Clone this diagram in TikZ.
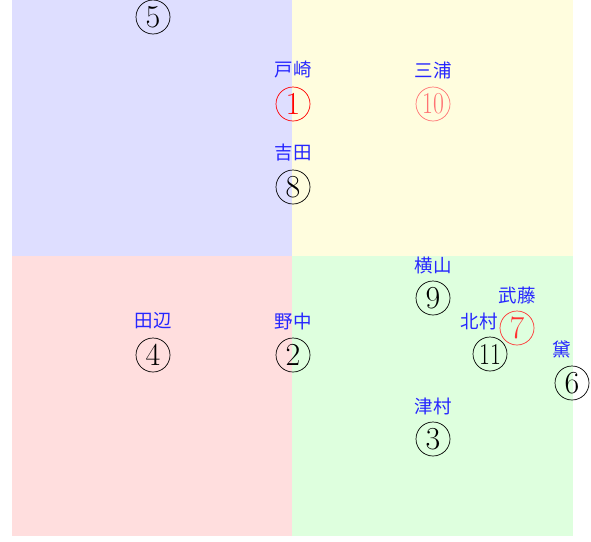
\documentclass[tikz,border=0pt]{standalone}
\usepackage{fontspec}
\newfontfamily\jpfont{Noto Sans CJK JP}
\usepackage{graphicx}
\tikzset{
  num/.style={draw, circle, minimum size=34pt, inner sep=0pt, line width=0.7pt,
    font=\fontsize{32}{32}\selectfont},
  lab/.style={text=blue!85, inner sep=0pt, font=\jpfont\fontsize{18.5}{18.5}\selectfont},
}
\newcommand{\twod}[1]{\scalebox{0.74}[0.95]{#1}}
\begin{document}
\begin{tikzpicture}[x=1pt,y=-1pt]
\useasboundingbox (0,0) rectangle (591,541);
\fill[blue!13]   (12,0)    rectangle (292,256);
\fill[yellow!13] (292,0)   rectangle (573,256);
\fill[red!13]    (12,256)  rectangle (292,536);
\fill[green!13]  (292,256) rectangle (573,536);

\node[num] (n5) at (153,17) {5};
\node[num, red] (n1) at (293,104) {1};
\node[lab] (l1) at (293,70) {戸崎};
\node[num, red!55] (n10) at (433,104) {\twod{10}};
\node[lab] (l10) at (433,70) {三浦};
\node[num] (n8) at (293,187) {8};
\node[lab] (l8) at (293,153) {吉田};
\node[num] (n9) at (433,298) {9};
\node[lab] (l9) at (433,265) {横山};
\node[num, red!80] (n7) at (517,328) {7};
\node[lab] (l7) at (517,295) {武藤};
\node[num] (n11) at (490,354) {\twod{11}};
\node[lab] (l11) at (479,321) {北村};
\node[num] (n6) at (572,383) {6};
\node[lab] (l6) at (562,349) {黛};
\node[num] (n3) at (433,439) {3};
\node[lab] (l3) at (433,406) {津村};
\node[num] (n4) at (153,355) {4};
\node[lab] (l4) at (153,321) {田辺};
\node[num] (n2) at (293,355) {2};
\node[lab] (l2) at (293,321) {野中};
\end{tikzpicture}
\end{document}
